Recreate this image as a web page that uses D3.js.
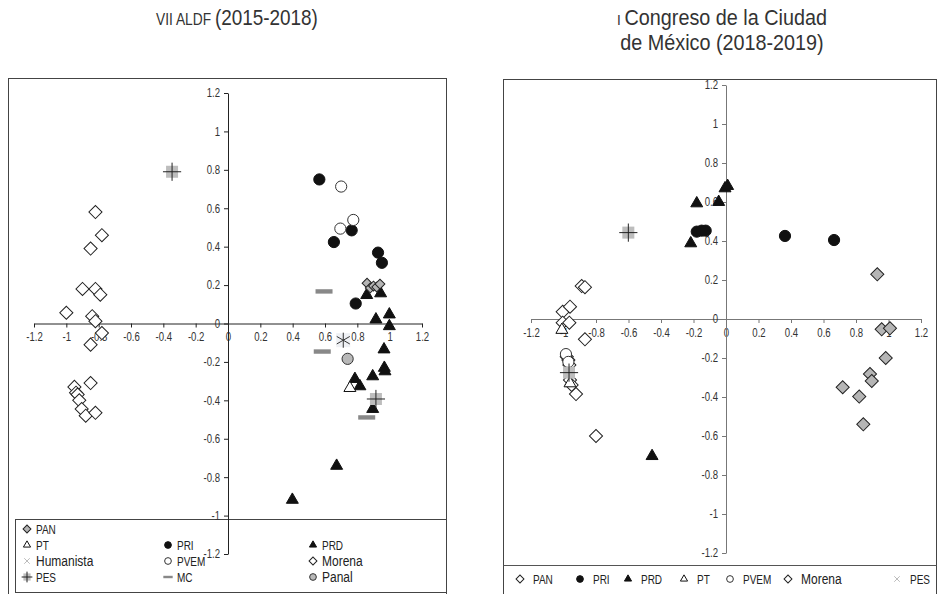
<!DOCTYPE html>
<html>
<head>
<meta charset="utf-8">
<style>
body { margin: 0; background: #fff; }
svg { display: block; }
text { font-family: "Liberation Sans", Arial, sans-serif; }
</style>
</head>
<body>
<svg id="svg" width="942" height="594"></svg>
<script src="https://cdnjs.cloudflare.com/ajax/libs/d3/7.8.5/d3.min.js"></script>
<script>
// ---- data: VII ALDF (2015-2018), [x, y]
var aldfPAN = [[0.86,0.21],[0.88,0.185],[0.90,0.195],[0.92,0.19],[0.94,0.205]]
var aldfPT = [[0.754,-0.336]]
var aldfPRI = [[0.565,0.75],[0.765,0.485],[0.655,0.424],[0.928,0.369],[0.952,0.316],[0.79,0.104]]
var aldfPRD = [[0.858,0.148],[0.944,0.157],[0.915,0.021],[0.998,0.047],[0.998,-0.014],[0.965,-0.135],
               [0.967,-0.231],[0.971,-0.249],[0.895,-0.275],[0.785,-0.289],[0.816,-0.327],[0.895,-0.445],
               [0.672,-0.741],[0.398,-0.918]]
var aldfHumanista = [[0.713,-0.087]]
var aldfPVEM = [[0.70,0.713],[0.775,0.539],[0.695,0.494]]
var aldfMorena = [[-0.82,0.58],[-0.78,0.46],[-0.85,0.39],[-0.90,0.18],[-0.82,0.18],[-0.79,0.15],
                  [-1.00,0.056],[-0.84,0.038],[-0.82,0.012],[-0.78,-0.05],[-0.85,-0.11],[-0.85,-0.31],
                  [-0.95,-0.33],[-0.94,-0.36],[-0.93,-0.37],[-0.92,-0.40],[-0.905,-0.445],[-0.88,-0.48],[-0.82,-0.465]]
var aldfPES = [[-0.346,0.79],[0.915,-0.393]]
var aldfMC = [[0.594,0.167],[0.583,-0.146],[0.858,-0.489]]
var aldfPanal = [[0.74,-0.184]]

// ---- data: I Congreso de la Ciudad de México (2018-2019)
var cdmxPAN = [[0.931,0.229],[0.958,-0.053],[1.009,-0.048],[0.983,-0.2],[0.886,-0.282],[0.897,-0.318],
               [0.718,-0.35],[0.82,-0.398],[0.845,-0.54]]
var cdmxPRI = [[-0.18,0.448],[-0.15,0.453],[-0.125,0.453],[0.363,0.426],[0.665,0.405]]
var cdmxPRD = [[-0.18,0.593],[-0.217,0.388],[-0.045,0.6],[-0.006,0.67],[0.01,0.682],[-0.455,-0.703]]
var cdmxPT = [[-1.01,-0.056],[-0.96,-0.33]]
var cdmxPVEM = [[-0.985,-0.18],[-0.97,-0.22]]
var cdmxMorena = [[-0.888,0.169],[-0.868,0.163],[-1.005,0.037],[-0.96,0.063],[-1.005,-0.019],[-0.964,-0.019],
                  [-0.868,-0.104],[-0.98,-0.193],[-0.97,-0.21],[-0.964,-0.236],[-0.96,-0.313],[-0.95,-0.338],
                  [-0.923,-0.385],[-0.8,-0.6]]
var cdmxPES = [[-0.601,0.443],[-0.966,-0.275]]

var tickVals = [-1.2,-1,-0.8,-0.6,-0.4,-0.2,0,0.2,0.4,0.6,0.8,1,1.2]
var fmt = function(d){ return String(+d.toFixed(1)) }
var SX = 0.8   // horizontal squeeze, the original uses a condensed face

var svg = d3.select("#svg")

// a squeezed text placed at (x, y)
function narrowText(parent, x, y, size, anchor, sx) {
  return parent.append("text")
    .attr("transform", "translate(" + x + "," + y + ") scale(" + (sx || SX) + ",1)")
    .attr("text-anchor", anchor || "start").attr("font-size", size).attr("fill", "#222")
}

// marker drawing, shared by plots and legends
function marker(g, type, s) {
  s = s || 1
  if (type == "diamondGray" || type == "diamondOpen") {
    g.append("path").attr("d", d3.symbol(d3.symbolSquare, 86*s*s)())
      .attr("transform", "rotate(45)")
      .attr("fill", type == "diamondGray" ? "#b5b5b5" : "#fff")
      .attr("stroke", "#222").attr("stroke-width", 1)
  } else if (type == "circleFill" || type == "circleOpen" || type == "circleGray") {
    g.append("circle").attr("r", 5.6*s)
      .attr("fill", type == "circleFill" ? "#111" : type == "circleGray" ? "#b8b8b8" : "#fff")
      .attr("stroke", type == "circleFill" ? "#111" : "#333").attr("stroke-width", 1)
  } else if (type == "triFill" || type == "triOpen") {
    g.append("path").attr("d", d3.symbol(d3.symbolTriangle, 62*s*s)())
      .attr("fill", type == "triFill" ? "#111" : "#fff")
      .attr("stroke", "#111").attr("stroke-width", 1)
  } else if (type == "dash") {
    g.append("rect").attr("x", -8.5*s).attr("y", -2.2*s).attr("width", 17*s).attr("height", 4.4*s)
      .attr("fill", "#888")
  } else if (type == "pes") {
    g.append("rect").attr("x", -6*s).attr("y", -6*s).attr("width", 12*s).attr("height", 12*s).attr("fill", "#bdbdbd")
    g.append("path").attr("d", d3.symbol(d3.symbolPlus, 110*s*s)()).attr("fill", "none")
      .attr("stroke", "#222").attr("stroke-width", 1)
  } else if (type == "human") {
    g.append("rect").attr("x", -7).attr("y", -7).attr("width", 14).attr("height", 14).attr("fill", "#eef0f4")
    g.append("path").attr("d", d3.symbol(d3.symbolAsterisk, 160)()).attr("fill", "none")
      .attr("stroke", "#333").attr("stroke-width", 1)
  } else if (type == "timesGray") {
    g.append("path").attr("d", d3.symbol(d3.symbolTimes, 60*s*s)()).attr("fill", "#aaa")
      .attr("stroke", "#aaa").attr("stroke-width", 0.8)
  }
}

function plotSeries(g, x, y, data, type, s) {
  g.append("g").selectAll("g").data(data).join("g")
    .attr("transform", function(d){ return "translate(" + x(d[0]) + "," + y(d[1]) + ")" })
    .each(function(){ marker(d3.select(this), type, s) })
}

function drawAxes(g, x, y, color) {
  var ax = g.append("g").attr("transform", "translate(0," + y(0) + ")")
    .call(d3.axisBottom(x).tickValues(tickVals).tickFormat(fmt).tickSize(4).tickSizeOuter(0).tickPadding(5))
  var ay = g.append("g").attr("transform", "translate(" + x(0) + ",0)")
    .call(d3.axisLeft(y).tickValues(tickVals).tickFormat(fmt).tickSize(4).tickSizeOuter(0).tickPadding(4))
  ;[ax, ay].forEach(function(a){
    a.selectAll("path,line").attr("stroke", color)
    a.selectAll("text").attr("font-family", "Liberation Sans, Arial, sans-serif").attr("font-size", 12).attr("fill", "#333")
      .each(function(){
        var t = d3.select(this), tx = +t.attr("x") || 0
        t.attr("x", tx / SX).attr("transform", "scale(" + SX + ",1)")
      })
  })
}

// ================= left panel
var xL = d3.scaleLinear().domain([-1.2, 1.2]).range([34, 422])
var yL = d3.scaleLinear().domain([-1.2, 1.2]).range([554, 93])

svg.append("rect").attr("x", 8.5).attr("y", 78.5).attr("width", 438).attr("height", 530)
  .attr("fill", "none").attr("stroke", "#444")

var title1 = narrowText(svg, 237, 25, 22, "middle", 0.86).attr("fill", "#333")
title1.append("tspan").attr("font-size", 16).text("VII ALDF ")
title1.append("tspan").text("(2015-2018)")

// legend left (drawn before axes, axis runs over it)
var legL = svg.append("g")
legL.append("rect").attr("x", 15.5).attr("y", 519.5).attr("width", 431).attr("height", 73)
  .attr("fill", "none").attr("stroke", "#444")
var legLItems = [
  ["PAN", "diamondGray", 27, 529, 12.5], 
  ["PT", "triOpen", 27, 545, 12.5], ["PRI", "circleFill", 168, 545, 12.5], ["PRD", "triFill", 313, 545, 12.5],
  ["Humanista", "timesGray", 27, 561, 15], ["PVEM", "circleOpen", 168, 561, 12.5], ["Morena", "diamondOpen", 313, 561, 15],
  ["PES", "pes", 27, 577, 12.5], ["MC", "dash", 168, 577, 12.5], ["Panal", "circleGray", 313, 577, 15]
]
legLItems.forEach(function(it){
  var g = legL.append("g").attr("transform", "translate(" + it[2] + "," + it[3] + ")")
  marker(g, it[1], it[1] == "dash" ? 0.55 : 0.6)
  narrowText(legL, it[2] + 9, it[3] + 4.5, it[4]).text(it[0])
})

var gL = svg.append("g")
drawAxes(gL, xL, yL, "#222")

plotSeries(gL, xL, yL, aldfMorena, "diamondOpen")
plotSeries(gL, xL, yL, aldfPRI, "circleFill")
plotSeries(gL, xL, yL, aldfPVEM, "circleOpen")
plotSeries(gL, xL, yL, aldfMC, "dash")
plotSeries(gL, xL, yL, aldfPRD, "triFill")
plotSeries(gL, xL, yL, aldfPT, "triOpen")
plotSeries(gL, xL, yL, aldfPAN, "diamondGray", 0.75)
plotSeries(gL, xL, yL, aldfPanal, "circleGray")
plotSeries(gL, xL, yL, aldfHumanista, "human")
plotSeries(gL, xL, yL, aldfPES, "pes")

// ================= right panel
var xR = d3.scaleLinear().domain([-1.2, 1.2]).range([531, 921])
var yR = d3.scaleLinear().domain([-1.2, 1.2]).range([553, 85])

svg.append("rect").attr("x", 503.5).attr("y", 79.5).attr("width", 433).attr("height", 530)
  .attr("fill", "none").attr("stroke", "#444")
svg.append("line").attr("x1", 503.5).attr("x2", 936.5).attr("y1", 565.5).attr("y2", 565.5).attr("stroke", "#555")

var title2 = narrowText(svg, 722, 25, 22, "middle", 0.9).attr("fill", "#333")
title2.append("tspan").attr("font-size", 15).text("I ")
title2.append("tspan").text("Congreso de la Ciudad")
narrowText(svg, 722, 50, 22, "middle", 0.9).attr("fill", "#333").text("de México (2018-2019)")

var gR = svg.append("g")
drawAxes(gR, xR, yR, "#777")

plotSeries(gR, xR, yR, cdmxPAN, "diamondGray")
plotSeries(gR, xR, yR, cdmxMorena, "diamondOpen")
plotSeries(gR, xR, yR, cdmxPVEM, "circleOpen")
plotSeries(gR, xR, yR, cdmxPT, "triOpen")
plotSeries(gR, xR, yR, cdmxPRI, "circleFill")
plotSeries(gR, xR, yR, cdmxPRD, "triFill")
plotSeries(gR, xR, yR, cdmxPES, "pes")

var legRItems = [
  ["PAN", "diamondOpen", 520, 12.5], ["PRI", "circleFill", 580, 12.5], ["PRD", "triFill", 628, 12.5],
  ["PT", "triOpen", 684, 12.5], ["PVEM", "circleOpen", 730, 12.5], ["Morena", "diamondOpen", 788, 15],
  ["PES", "timesGray", 897, 12.5]
]
legRItems.forEach(function(it){
  var g = svg.append("g").attr("transform", "translate(" + it[2] + ",579)")
  marker(g, it[1], 0.6)
  narrowText(svg, it[2] + 13, 584, it[3]).text(it[0])
})
</script>
</body>
</html>
